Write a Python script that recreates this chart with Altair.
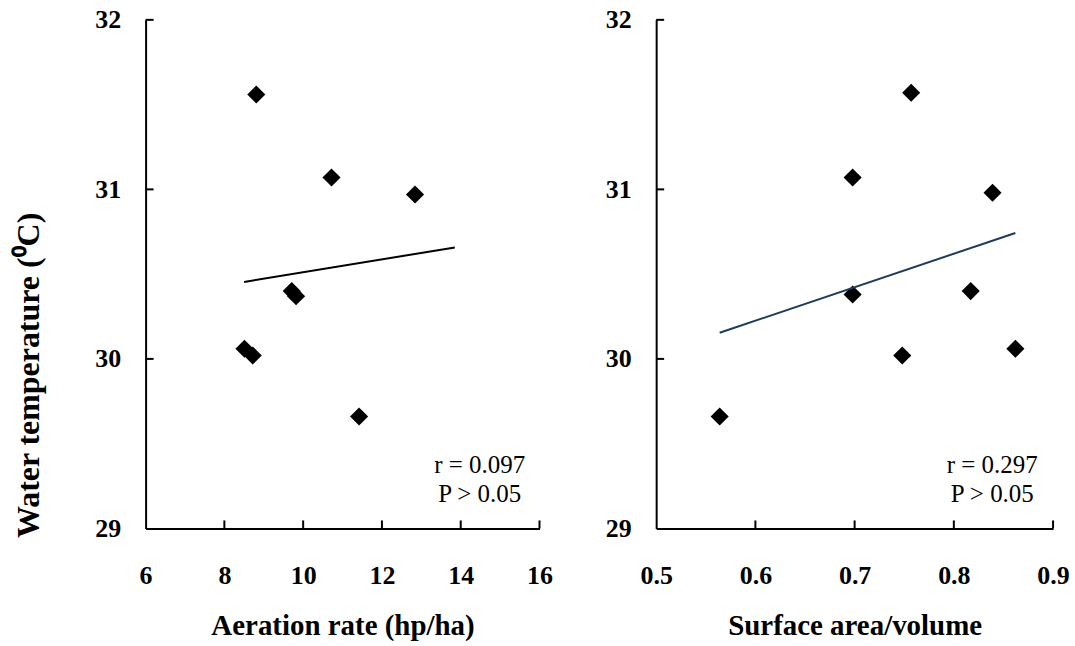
import altair as alt
import pandas as pd

# ---- data ----
aeration_rate = [8.81, 10.72, 12.84, 9.71, 9.82, 8.51, 8.72, 11.42]
temp_left = [31.56, 31.07, 30.97, 30.40, 30.37, 30.06, 30.02, 29.66]

surface_volume = [0.757, 0.698, 0.839, 0.698, 0.817, 0.748, 0.862, 0.564]
temp_right = [31.57, 31.07, 30.98, 30.38, 30.40, 30.02, 30.06, 29.66]

left_xticks = [6, 8, 10, 12, 14, 16]
right_xticks = [0.5, 0.6, 0.7, 0.8, 0.9]
yticks = [29, 30, 31, 32]
left_inner_xticks = [8, 10, 12, 14, 16]
right_inner_xticks = [0.6, 0.7, 0.8, 0.9]
inner_yticks = [30, 31, 32]
left_trend_extent = [8.5, 13.85]

left_notes = ["r = 0.097", "P > 0.05"]
right_notes = ["r = 0.297", "P > 0.05"]

FONT = "Liberation Serif"
H = 510


def panel(xs, ys, xdomain, xticks, inner_xt, xfmt, xtitle, ytitle, width,
          trend_color, notes, note_x, extent=None):
    df = pd.DataFrame({"x": xs, "y": ys})
    xscale = alt.Scale(domain=xdomain, nice=False, zero=False)
    yscale = alt.Scale(domain=[29, 32], nice=False, zero=False)
    xaxis = alt.Axis(values=xticks, format=xfmt, title=xtitle, ticks=False,
                     grid=False, labelPadding=34, titlePadding=23,
                     labelFont=FONT, labelFontSize=26, labelFontWeight="bold",
                     labelColor="black", titleFont=FONT, titleFontSize=29,
                     titleFontWeight="bold", titleColor="black",
                     domainColor="black", domainWidth=2, labelFlush=False)
    yargs = dict(values=yticks, format="d", ticks=False, grid=False,
                 labelPadding=25, labelFont=FONT, labelFontSize=26,
                 labelFontWeight="bold", labelColor="black",
                 domainColor="black", domainWidth=2, labelFlush=False)
    if ytitle:
        yaxis = alt.Axis(title=ytitle, titlePadding=49, titleFont=FONT,
                         titleFontSize=32, titleFontWeight="bold",
                         titleColor="black", titleY=356, **yargs)
    else:
        yaxis = alt.Axis(title=None, **yargs)

    base = alt.Chart(df)
    pts = base.mark_point(shape="diamond", filled=True, size=330,
                          color="black", opacity=1).encode(
        x=alt.X("x:Q", scale=xscale, axis=xaxis),
        y=alt.Y("y:Q", scale=yscale, axis=yaxis),
    )
    reg_kwargs = {}
    if extent is not None:
        reg_kwargs["extent"] = extent
    trend = base.transform_regression("x", "y", **reg_kwargs).mark_line(
        color=trend_color, strokeWidth=2).encode(
        x=alt.X("x:Q", scale=xscale, axis=xaxis),
        y=alt.Y("y:Q", scale=yscale, axis=yaxis),
    )
    xt = alt.Chart(pd.DataFrame({"x": inner_xt})).mark_rule(
        color="black", strokeWidth=2).encode(
        x=alt.X("x:Q", scale=xscale, axis=xaxis),
        y=alt.value(H), y2=alt.value(H - 8))
    yt = alt.Chart(pd.DataFrame({"y": inner_yticks})).mark_rule(
        color="black", strokeWidth=2).encode(
        y=alt.Y("y:Q", scale=yscale, axis=yaxis),
        x=alt.value(0), x2=alt.value(8))
    t1 = alt.Chart(pd.DataFrame({"note": [notes[0]]})).mark_text(
        font=FONT, fontSize=25, align="center", baseline="middle",
        color="black").encode(text="note:N", x=alt.value(note_x),
                              y=alt.value(446))
    t2 = alt.Chart(pd.DataFrame({"note": [notes[1]]})).mark_text(
        font=FONT, fontSize=25, align="center", baseline="middle",
        color="black").encode(text="note:N", x=alt.value(note_x),
                              y=alt.value(475))
    return alt.layer(pts, trend, xt, yt, t1, t2).properties(
        width=width, height=H)


left = panel(aeration_rate, temp_left, [6, 16], left_xticks,
             left_inner_xticks, "d", "Aeration rate (hp/ha)",
             "Water temperature (\u2070C)", 395, "black", left_notes, 335,
             extent=left_trend_extent)
right = panel(surface_volume, temp_right, [0.5, 0.9], right_xticks,
              right_inner_xticks, ".1f", "Surface area/volume", None, 398,
              "#1f3a5f", right_notes, 337)

chart = alt.hconcat(left, right, spacing=53).properties(
    padding={"left": 13, "top": 6, "right": 5, "bottom": 5},
    background="white",
).configure_view(stroke=None)

chart.save("out.html", embed_options={"renderer": "svg", "actions": False})
